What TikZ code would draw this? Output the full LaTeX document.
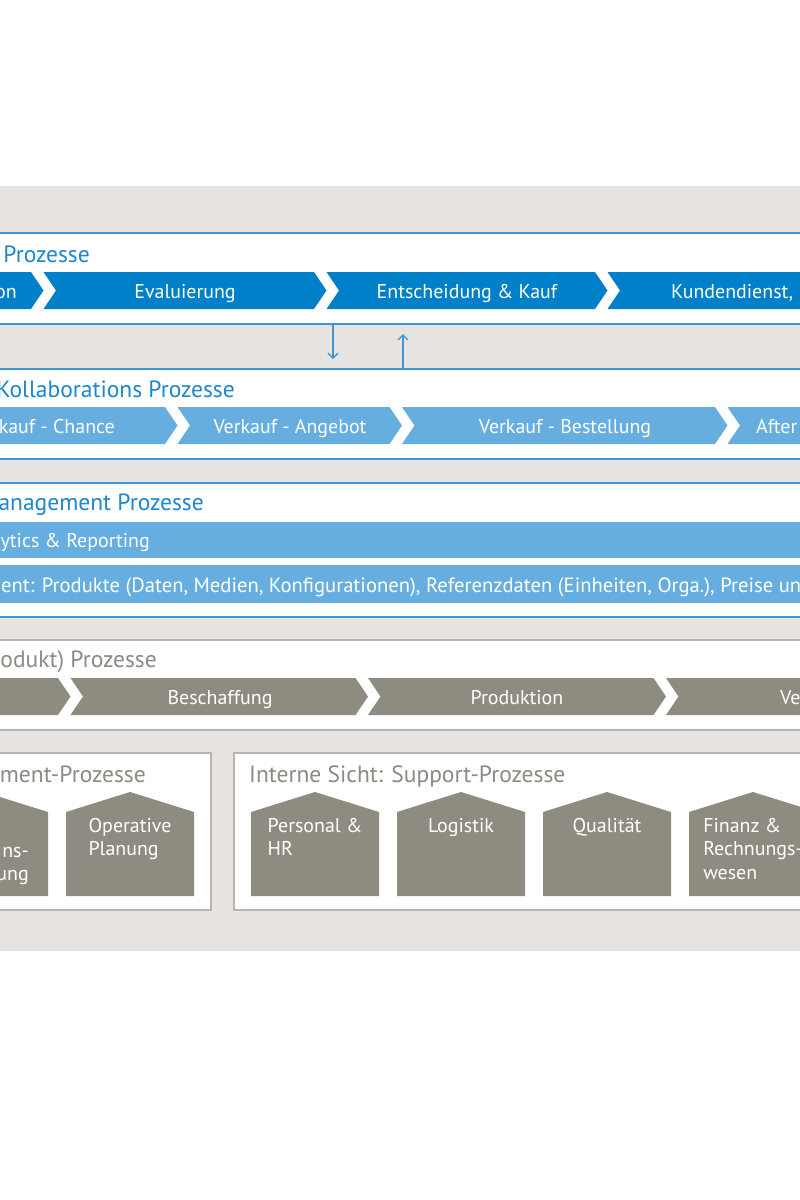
\documentclass[tikz,border=0pt]{standalone}
\usepackage{fontspec}
\setmainfont{PT Sans}
\usetikzlibrary{arrows.meta, positioning}
\definecolor{cbg}{HTML}{E7E3E0}
\definecolor{cdark}{HTML}{0080C8}
\definecolor{clight}{HTML}{66AEE0}
\definecolor{cline}{HTML}{3A96D8}
\definecolor{cbluetxt}{HTML}{1C86CE}
\definecolor{cgrey}{HTML}{8E8B80}
\definecolor{cgreyline}{HTML}{B8B4AE}
\definecolor{cgreytxt}{HTML}{8D8A84}
\tikzset{
  every picture/.style={x=1bp, y=-1bp},
  band/.style={fill=white, minimum width=860bp, minimum height=#1, inner sep=0pt},
  bar/.style={fill=clight, minimum width=860bp, minimum height=#1, inner sep=0pt},
  frame/.style={fill=white, draw=cgreyline, line width=1.5bp, inner sep=0pt},
  title/.style={font=\fontsize{23.6}{28}\selectfont, text=#1, inner sep=0pt},
  lbl/.style={font=\fontsize{20}{23.5}\selectfont, text=white, inner sep=0pt},
  flow/.style={-{Straight Barb[length=5bp, width=10bp]}, draw=cline, line width=1.3bp},
}
% chevron: colour, left, right, top
\newcommand{\chev}[4]{%
  \fill[#1] (#2,#4) -- (#3,#4) -- ++(12.5,18.5) -- ++(-12.5,18.5) -- (#2,#4+37) -- ++(12.5,-18.5) -- cycle;}
% house: left, name, text
\newcommand{\house}[3]{%
  \fill[cgrey] (#1,896) -- (#1,812) -- (#1+64,792) -- (#1+128,812) -- (#1+128,896) -- cycle;
  \node[lbl, align=left, anchor=north] (#2) at (#1+64,818) {#3};}

\begin{document}
\begin{tikzpicture}
  \useasboundingbox (0,0) rectangle (800,1200);
  \clip (0,0) rectangle (800,1200);
  \fill[cbg] (-10,186) rectangle (810,951);

  % Kunden
  \node[band=91bp] (kunde) at (400,278.5) {};
  \draw[cline, line width=1.5bp] (kunde.north west) -- (kunde.north east) (kunde.south west) -- (kunde.south east);
  \node[title=cbluetxt, anchor=base east] (tkunde) at (90,262) {Prozesse};
  \chev{cdark}{-100}{31}{272} \chev{cdark}{43.5}{314}{272} \chev{cdark}{326.5}{595}{272} \chev{cdark}{607.5}{900}{272}
  \node[lbl, anchor=base east] (info) at (17,298) {on};
  \node[lbl, anchor=base] (eval) at (185,298) {Evaluierung};
  \node[lbl, anchor=base] (kauf) at (467,298) {Entscheidung \& Kauf};
  \node[lbl, anchor=base west] (dienst) at (671,298) {Kundendienst,};

  % Kollaboration
  \node[band=90bp] (kollab) at (400,414) {};
  \draw[cline, line width=1.5bp] (kollab.north west) -- (kollab.north east) (kollab.south west) -- (kollab.south east);
  \node[title=cbluetxt, anchor=base east] (tkollab) at (235,397) {Kollaborations Prozesse};
  \chev{clight}{-100}{165}{407} \chev{clight}{177.5}{389.5}{407} \chev{clight}{402}{715}{407} \chev{clight}{727.5}{900}{407}
  \node[lbl, anchor=base east] (chance) at (115,433) {kauf - Chance};
  \node[lbl, anchor=base] (angebot) at (290,433) {Verkauf - Angebot};
  \node[lbl, anchor=base] (bestell) at (565,433) {Verkauf - Bestellung};
  \node[lbl, anchor=base west] (after) at (756,433) {After};

  \coordinate (down) at (333,359);
  \draw[flow] (kunde.south -| down) -- (down);
  \coordinate (up) at (403,334);
  \draw[flow] (kollab.north -| up) -- (up);

  % Management
  \node[band=134bp] (mgmtband) at (400,550) {};
  \draw[cline, line width=1.5bp] (mgmtband.north west) -- (mgmtband.north east) (mgmtband.south west) -- (mgmtband.south east);
  \node[title=cbluetxt, anchor=base east] (tmgmt) at (204,510) {anagement Prozesse};
  \node[bar=36bp] (analytics) at (400,540) {};
  \node[bar=38bp] (stamm) at (400,584) {};
  \node[lbl, anchor=base east] (tanalytics) at (150,547) {ytics \& Reporting};
  \node[lbl, anchor=base west, font=\fontsize{20.7}{24}\selectfont] (tstamm) at (1,592) {ent: Produkte (Daten, Medien, Konfigurationen), Referenzdaten (Einheiten, Orga.), Preise un};

  % Produkt
  \node[band=90bp] (produkt) at (400,685) {};
  \draw[cgreyline, line width=1.5bp] (produkt.north west) -- (produkt.north east) (produkt.south west) -- (produkt.south east);
  \node[title=cgreytxt, anchor=base east] (tprodukt) at (157,667) {odukt) Prozesse};
  \chev{cgrey}{-100}{58}{678} \chev{cgrey}{70.5}{355.5}{678} \chev{cgrey}{368}{653.5}{678} \chev{cgrey}{666}{900}{678}
  \node[lbl, anchor=base] (beschaff) at (220,704) {Beschaffung};
  \node[lbl, anchor=base] (prod) at (517,704) {Produktion};
  \node[lbl, anchor=base west] (vertrieb) at (780,704) {Ve};

  % interne Sicht
  \node[frame, minimum width=231bp, minimum height=157bp] (mgmtbox) at (95.5,831.5) {};
  \node[frame, minimum width=596bp, minimum height=157bp] (supportbox) at (532,831.5) {};
  \node[title=cgreytxt, anchor=base east] (tmgmtbox) at (146,782) {ment-Prozesse};
  \node[title=cgreytxt, anchor=base west] (tsupport) at (249,782) {Interne Sicht: Support-Prozesse};
  \house{-80}{invest}{}
  \node[lbl, align=right, anchor=north east] (tinvest) at (29,847) {ns-\\ung};
  \house{66}{opplan}{Operative\\Planung}
  \house{251}{personal}{Personal \&\\HR}
  \house{397}{logistik}{Logistik}
  \house{543}{qualitaet}{Qualität}
  \house{689}{finanz}{Finanz \&\\Rechnungs-\\wesen}
\end{tikzpicture}
\end{document}
